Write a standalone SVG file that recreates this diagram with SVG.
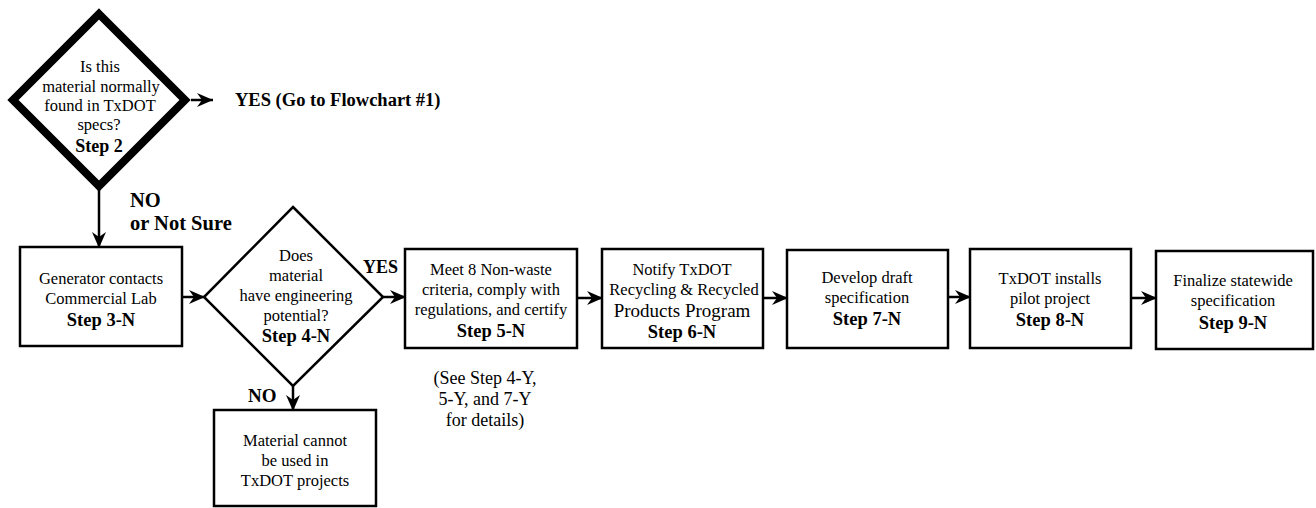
<svg xmlns="http://www.w3.org/2000/svg" width="1316" height="508" viewBox="0 0 1316 508">
<style>
text{font-family:"Liberation Serif","Times New Roman",serif;fill:#000;text-anchor:middle}
.t{font-size:16.5px}
.b{font-size:18.5px;font-weight:bold}
.lbl{font-weight:bold}
.box{fill:#fff;stroke:#000;stroke-width:2.5}
.dia{fill:#fff;stroke:#000;stroke-width:2.5;stroke-linejoin:miter}
.edge{stroke:#000;stroke-width:2.5;fill:none}
</style>
<defs>
<marker id="ah" markerUnits="userSpaceOnUse" markerWidth="18" markerHeight="14" refX="16" refY="7" orient="auto">
<path d="M0,0 L16,7 L0,14 L5,7 z" fill="#000"/>
</marker>
</defs>
<rect width="1316" height="508" fill="#fff"/>
<g id="connectors">
<line class="edge" x1="191" y1="100" x2="213" y2="100" marker-end="url(#ah)"/>
<line class="edge" x1="99" y1="190" x2="99" y2="248" marker-end="url(#ah)"/>
<line class="edge" x1="182" y1="297" x2="205" y2="297" marker-end="url(#ah)"/>
<line class="edge" x1="383" y1="297" x2="406" y2="297" marker-end="url(#ah)"/>
<line class="edge" x1="293" y1="385" x2="293" y2="411" marker-end="url(#ah)"/>
<line class="edge" x1="577" y1="298" x2="603" y2="298" marker-end="url(#ah)"/>
<line class="edge" x1="763" y1="298" x2="788" y2="298" marker-end="url(#ah)"/>
<line class="edge" x1="948" y1="297" x2="971" y2="297" marker-end="url(#ah)"/>
<line class="edge" x1="1131" y1="298" x2="1157" y2="298" marker-end="url(#ah)"/>
<text class="lbl" x="235" y="106" style="text-anchor:start;font-size:18.5px">YES (Go to Flowchart #1)</text>
<text class="lbl" x="130" y="207" style="text-anchor:start;font-size:20.5px">NO</text>
<text class="lbl" x="130" y="230" style="text-anchor:start;font-size:20.5px">or Not Sure</text>
<text class="lbl" x="363" y="273" style="text-anchor:start;font-size:18px">YES</text>
<text class="lbl" x="248" y="402" style="text-anchor:start;font-size:19px">NO</text>
</g>
<g id="step2">
<path d="M99,14 L185,100 L99,186 L13,100 Z" fill="#fff" stroke="#000" stroke-width="8" stroke-linejoin="miter"/>
<text class="t" x="100" y="72">Is this</text>
<text class="t" x="101" y="92">material normally</text>
<text class="t" x="100" y="111">found in TxDOT</text>
<text class="t" x="99" y="130">specs?</text>
<text class="b" x="99" y="152" style="font-size:18px">Step 2</text>
</g>
<g id="step3n">
<rect class="box" x="20" y="247" width="162" height="99"/>
<text class="t" x="101" y="284">Generator contacts</text>
<text class="t" x="101" y="304">Commercial Lab</text>
<text class="b" x="101" y="326">Step 3-N</text>
</g>
<g id="step4n">
<path class="dia" d="M293,207 L383,297 L293,386 L204,297 Z"/>
<text class="t" x="296" y="261">Does</text>
<text class="t" x="296" y="281">material</text>
<text class="t" x="296" y="301">have engineering</text>
<text class="t" x="296" y="321">potential?</text>
<text class="b" x="296" y="342">Step 4-N</text>
</g>
<g id="cannot">
<rect class="box" x="214" y="410" width="162" height="96"/>
<text class="t" x="295" y="446">Material cannot</text>
<text class="t" x="295" y="466">be used in</text>
<text class="t" x="295" y="486">TxDOT projects</text>
</g>
<g id="step5n">
<rect class="box" x="405" y="249" width="172" height="99"/>
<text class="t" x="491" y="275">Meet 8 Non-waste</text>
<text class="t" x="491" y="295">criteria, comply with</text>
<text class="t" x="491" y="315">regulations, and certify</text>
<text class="b" x="491" y="337">Step 5-N</text>
</g>
<g id="note5n">
<text x="485" y="384" style="font-size:18px">(See Step 4-Y,</text>
<text x="485" y="405" style="font-size:18px">5-Y, and 7-Y</text>
<text x="485" y="426" style="font-size:18px">for details)</text>
</g>
<g id="step6n">
<rect class="box" x="602" y="249" width="161" height="99"/>
<text class="t" x="682" y="275">Notify TxDOT</text>
<text class="t" x="684" y="295">Recycling &amp; Recycled</text>
<text x="682" y="317" style="font-size:19px">Products Program</text>
<text class="b" x="682" y="338">Step 6-N</text>
</g>
<g id="step7n">
<rect class="box" x="787" y="250" width="161" height="98"/>
<text class="t" x="867" y="283">Develop draft</text>
<text class="t" x="867" y="303">specification</text>
<text class="b" x="867" y="325">Step 7-N</text>
</g>
<g id="step8n">
<rect class="box" x="970" y="249" width="161" height="99"/>
<text class="t" x="1050" y="284">TxDOT installs</text>
<text class="t" x="1050" y="304">pilot project</text>
<text class="b" x="1050" y="326">Step 8-N</text>
</g>
<g id="step9n">
<rect class="box" x="1156" y="251" width="157" height="98"/>
<text class="t" x="1233" y="286">Finalize statewide</text>
<text class="t" x="1233" y="306">specification</text>
<text class="b" x="1233" y="329">Step 9-N</text>
</g>
</svg>
